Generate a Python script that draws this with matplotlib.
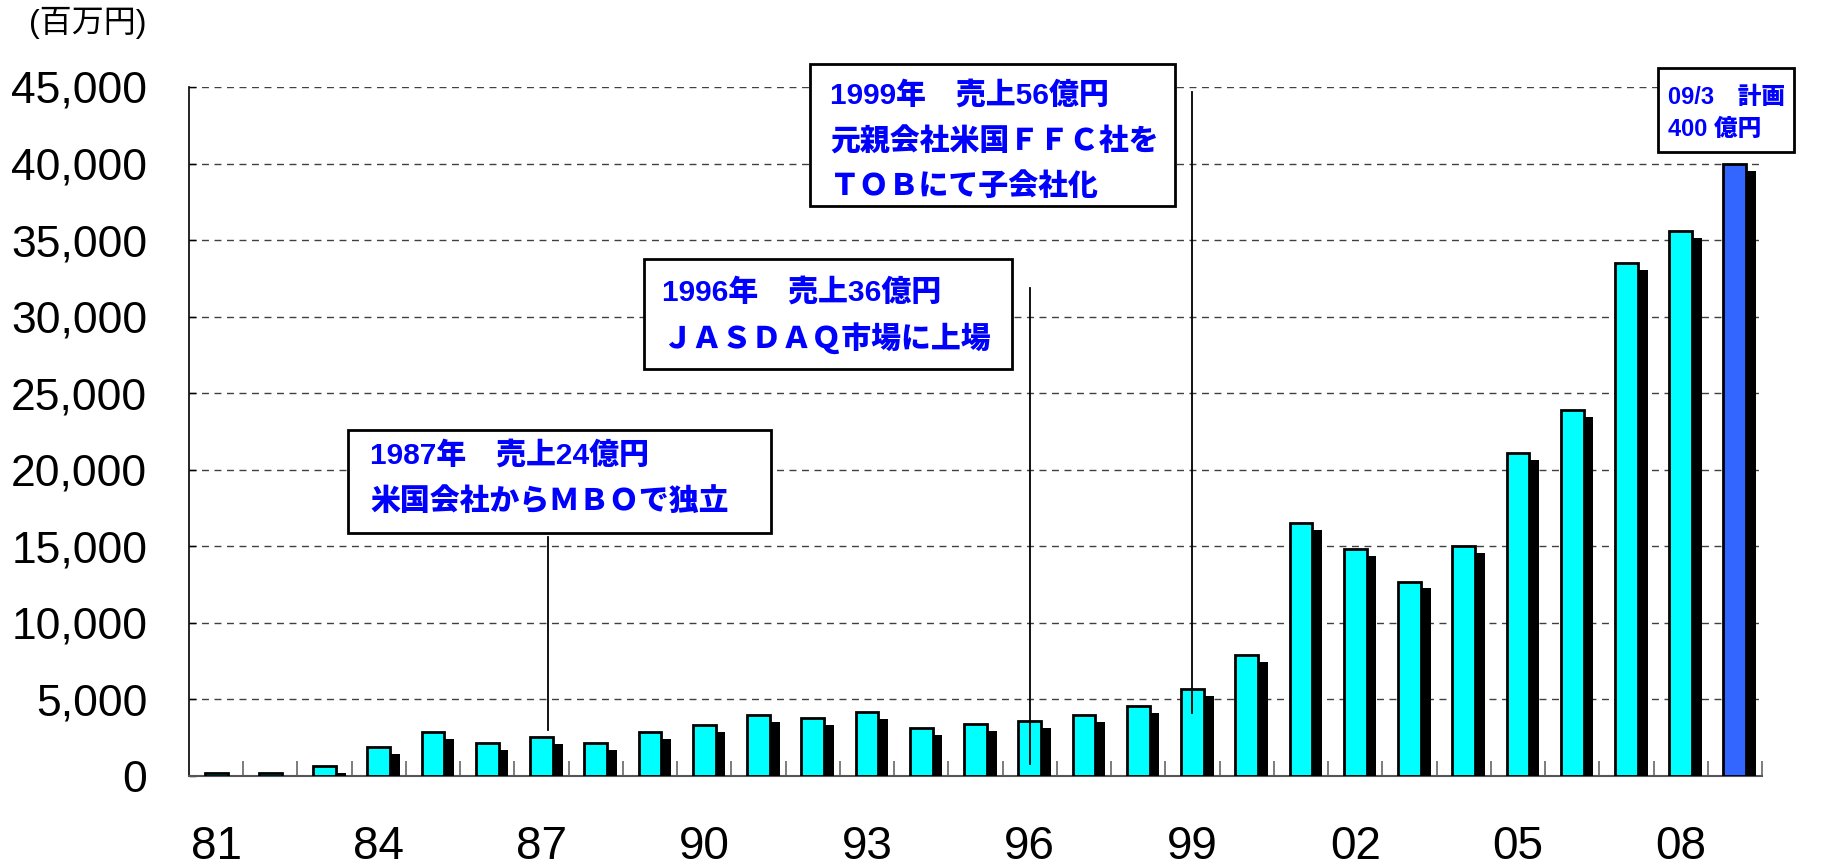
import matplotlib
matplotlib.use("Agg")
import matplotlib.pyplot as plt
import matplotlib.patheffects as pe
from matplotlib.patches import Rectangle
from matplotlib.ticker import FuncFormatter, FixedLocator
import numpy as np

# data (売上高, 百万円)
years = ['81', '82', '83', '84', '85', '86', '87', '88', '89', '90',
         '91', '92', '93', '94', '95', '96', '97', '98', '99', '00',
         '01', '02', '03', '04', '05', '06', '07', '08', '09']
sales = [200, 200, 650, 1900, 2900, 2150, 2550, 2150, 2900, 3350,
         4000, 3800, 4150, 3150, 3400, 3600, 4000, 4600, 5650, 7900,
         16500, 14800, 12700, 15000, 21100, 23900, 33500, 35600, 40000]
plan_year = '09'   # 計画値 (colored differently)

notes = [
    ['1987年\u3000売上24億円', '米国会社からＭＢＯで独立'],
    ['1996年\u3000売上36億円', 'ＪＡＳＤＡＱ市場に上場'],
    ['1999年\u3000売上56億円', '元親会社米国ＦＦＣ社を', 'ＴＯＢにて子会社化'],
    ['09/3\u3000計画', '400 億円'],
]
# leader lines: (year, bottom value, top value)
leaders = [('87', 3000, 15600), ('96', 780, 31900), ('99', 4100, 44700)]

W, H = 1832, 868
FONTS = ['Liberation Sans', 'Noto Sans CJK JP', 'DejaVu Sans']
plt.rcParams['font.family'] = FONTS

fig = plt.figure(figsize=(W / 100, H / 100), dpi=100)
ax = fig.add_axes([189 / W, 1 - 776 / H, (1762 - 189) / W, (776 - 87) / H])

x = np.arange(len(years))
colors = ['#3366FF' if y == plan_year else '#00FFFF' for y in years]
shadow = [pe.SimplePatchShadow(offset=(7, -5), shadow_rgbFace='black', alpha=1.0), pe.Normal()]
bars = ax.bar(x, sales, width=0.42, color=colors, edgecolor='black', linewidth=2, zorder=3)
for b in bars:
    b.set_path_effects(shadow)

ax.set_xlim(-0.5, len(years) - 0.5)
ax.set_ylim(0, 45000)

# y axis
ax.set_yticks(np.arange(0, 45001, 5000))
ax.yaxis.set_major_formatter(FuncFormatter(lambda v, p: f'{int(v):,}'))
ax.tick_params(axis='y', direction='in', length=5, width=1, labelsize=32, pad=30)
ax.yaxis.grid(True, linestyle=(0, (5, 4)), color='#404040', linewidth=1, zorder=0)
ax.set_axisbelow(True)

# x axis: labels every 3 years, ticks on category boundaries
ax.xaxis.set_major_locator(FixedLocator(x[::3]))
ax.set_xticklabels(years[::3], family=['Liberation Sans Narrow', 'Liberation Sans'])
ax.tick_params(axis='x', which='major', length=0, labelsize=33, pad=35)
ax.xaxis.set_minor_locator(FixedLocator(x + 0.5))
ax.tick_params(axis='x', which='minor', direction='in', length=11, width=1.2, color='#666666')

for s in ['top', 'right']:
    ax.spines[s].set_visible(False)
ax.spines['left'].set_linewidth(1.2)
ax.spines['bottom'].set_linewidth(1.5)
ax.spines['bottom'].set_color('#555555')

# leader lines
for yr, y0, y1 in leaders:
    xi = years.index(yr) + 0.12 if yr == '87' else years.index(yr)
    ax.plot([xi, xi], [y0, y1], color='black', linewidth=1.3, zorder=4, clip_on=False)

# annotation boxes (pixel layout)
boxes = [
    (348, 430, 771, 533, 370, [455, 502], 21.5),
    (644, 259, 1012, 369, 662, [292, 338], 21.5),
    (810, 64, 1175, 206, 830, [95, 142, 187], 21.5),
    (1658, 68, 1794, 152, 1668, [98, 129], 17),
]
for (bx0, by0, bx1, by1, tx, lys, fs), lines in zip(boxes, notes):
    fig.add_artist(Rectangle((bx0 / W, 1 - by1 / H), (bx1 - bx0) / W, (by1 - by0) / H,
                             transform=fig.transFigure, facecolor='white',
                             edgecolor='black', linewidth=2, zorder=5))
    for ly, txt in zip(lys, lines):
        fig.text(tx / W, 1 - ly / H, txt, color='#0000FF', fontsize=fs,
                 fontweight='heavy', va='center', ha='left', zorder=6)

fig.text(29 / W, 1 - 23 / H, '(百万円)', fontsize=23, va='center', ha='left')

fig.savefig('out.png', dpi=100)
